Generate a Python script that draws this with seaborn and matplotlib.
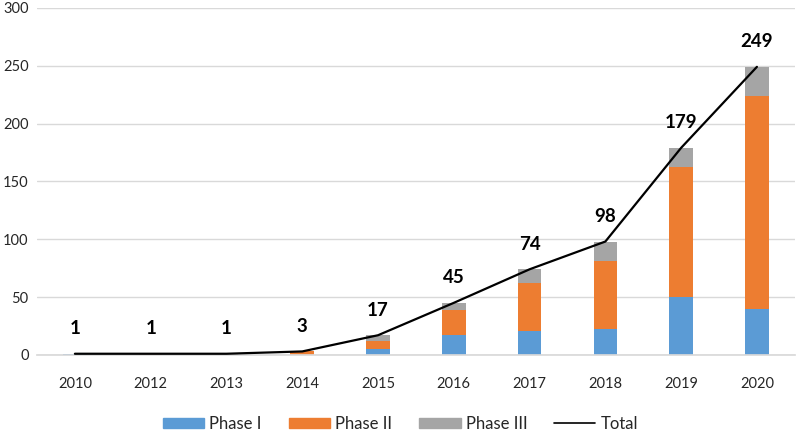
import numpy as np
import pandas as pd
import seaborn as sns
import matplotlib.pyplot as plt
from matplotlib.patches import Patch
from matplotlib.lines import Line2D

years = ['2010', '2012', '2013', '2014', '2015',
         '2016', '2017', '2018', '2019', '2020']
phase_1 = [1, 0, 0, 0, 5, 17, 21, 22, 50, 40]
phase_2 = [0, 1, 0, 3, 7, 22, 41, 59, 112, 184]
phase_3 = [0, 0, 1, 0, 5, 6, 12, 17, 17, 25]
total = [1, 1, 1, 3, 17, 45, 74, 98, 179, 249]

colors = {'Phase I': '#5B9BD5', 'Phase II': '#ED7D31',
          'Phase III': '#A5A5A5'}

sns.set_theme(style='white')
plt.rcParams['font.family'] = ['Lato', 'DejaVu Sans']

df = pd.DataFrame({'Year': years, 'Phase I': phase_1,
                   'Phase II': phase_2, 'Phase III': phase_3,
                   'Total': total})
# cumulative heights so that bars drawn back-to-front look stacked
df['top2'] = df['Phase I'] + df['Phase II']
df['top3'] = df['top2'] + df['Phase III']

fig = plt.figure(figsize=(7.96, 4.36), dpi=100)
ax = fig.add_axes([0.0465, 0.186, 0.952, 0.796])

for col, name in [('top3', 'Phase III'), ('top2', 'Phase II'),
                  ('Phase I', 'Phase I')]:
    sns.barplot(data=df, x='Year', y=col, color=colors[name],
                width=0.31, saturation=1, linewidth=0, edgecolor='none',
                ax=ax, zorder=2)

xs = np.arange(len(years))
sns.lineplot(x=xs, y=total, color='black', linewidth=1.6, ax=ax,
             zorder=3)

for x, t in zip(xs, total):
    ax.annotate(str(t), (x, t), xytext=(0, 12), textcoords='offset points',
                ha='center', va='bottom', fontsize=13.5, fontweight='bold',
                color='black')

ax.set_xlim(-0.5, len(years) - 0.5)
ax.set_ylim(0, 300)
ax.set_yticks(range(0, 301, 50))
ax.yaxis.grid(True, color='#D9D9D9', linewidth=1)
ax.set_axisbelow(True)
for s in ['top', 'right', 'left']:
    ax.spines[s].set_visible(False)
ax.spines['bottom'].set_color('#D9D9D9')
ax.tick_params(axis='both', length=0, labelsize=10.5, colors='#262626')
ax.tick_params(axis='x', pad=16)
ax.tick_params(axis='y', pad=6)
ax.set_xlabel('')
ax.set_ylabel('')

handles = [Patch(color=colors['Phase I']),
           Patch(color=colors['Phase II']),
           Patch(color=colors['Phase III']),
           Line2D([], [], color='black', linewidth=1.2)]
fig.legend(handles, ['Phase I', 'Phase II', 'Phase III', 'Total'],
           loc='lower center', bbox_to_anchor=(0.503, -0.025), ncol=4,
           frameon=False, fontsize=12, handlelength=2.5,
           handleheight=0.6, columnspacing=1.6, handletextpad=0.3)

fig.savefig('out.png', dpi=100)
